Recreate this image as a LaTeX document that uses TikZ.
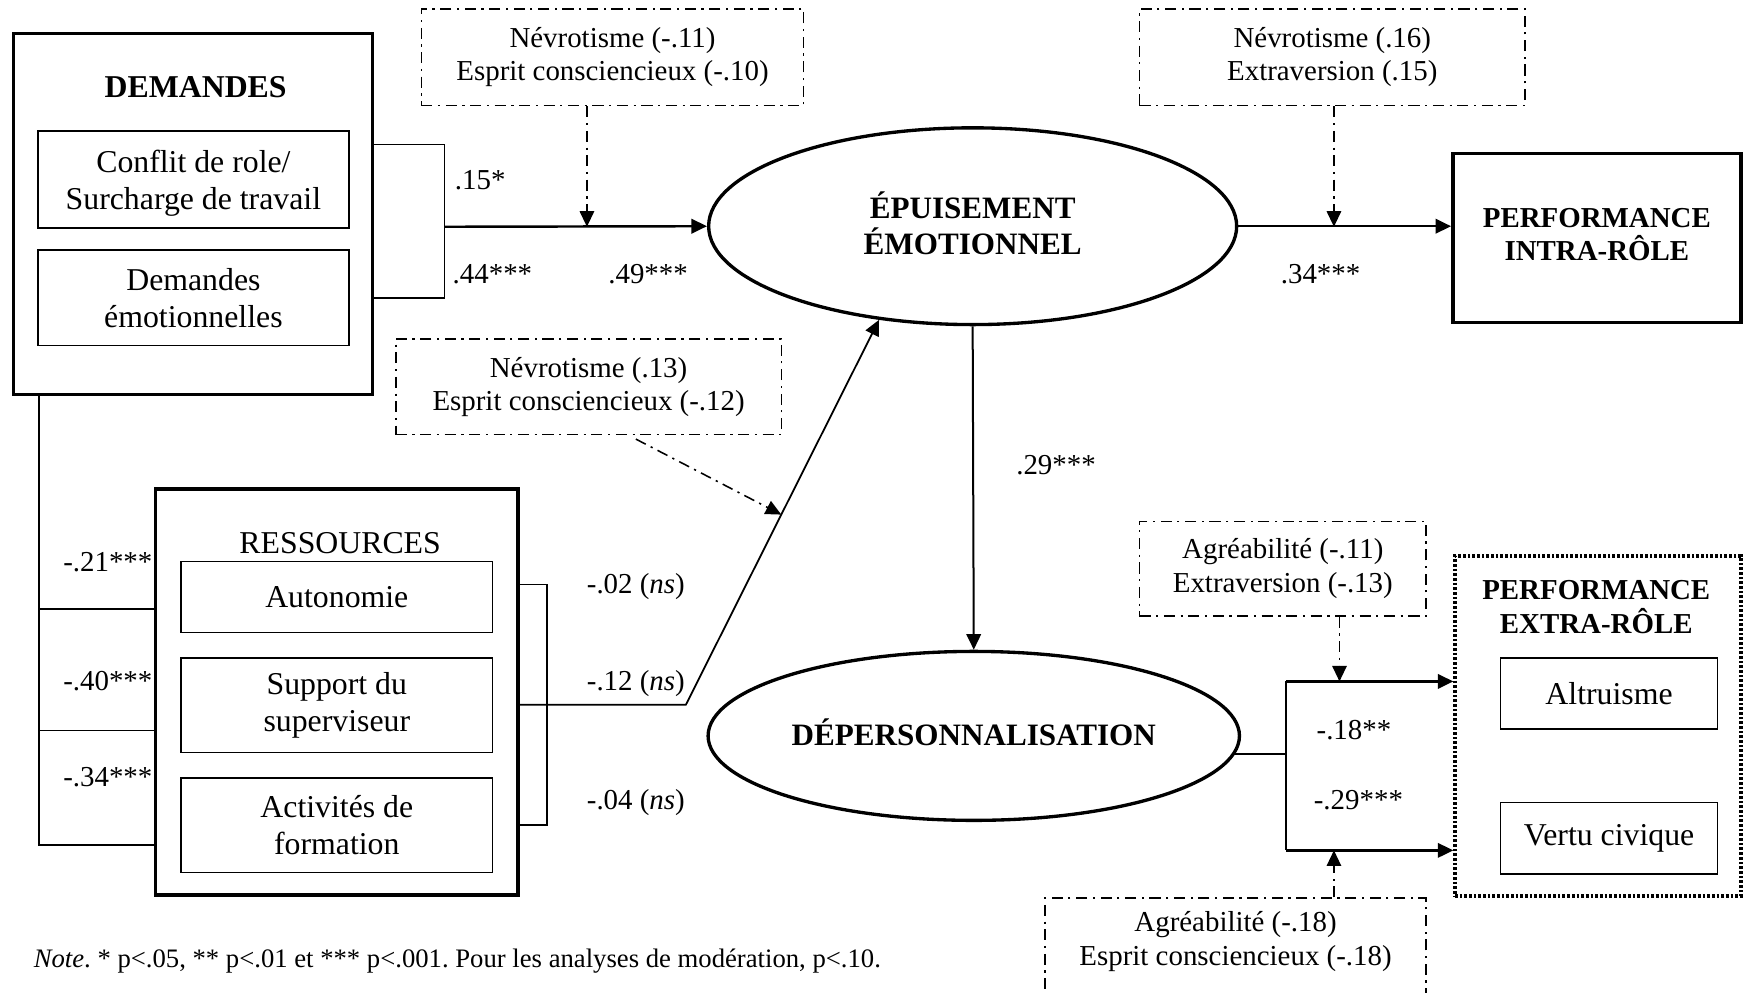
\documentclass[tikz,border=0pt]{standalone}
\usepackage{fontspec}
\setmainfont{Liberation Serif}
\usetikzlibrary{arrows.meta,shapes.geometric,calc}
\frenchspacing
\begin{document}
\begin{tikzpicture}[x=0.5pt,y=-0.5pt,
  font=\fontsize{13}{15}\selectfont,
  big/.style={font=\fontsize{14.3}{16.5}\selectfont},
  box/.style={draw,line width=0.7pt,inner sep=0pt,align=center,big},
  bigbox/.style={draw,line width=1.6pt,inner sep=0pt,align=center},
  modbox/.style={draw,line width=0.7pt,dash pattern=on 5pt off 2.5pt on 1pt off 2.5pt,inner sep=0pt,align=center},
  latent/.style={ellipse,draw,line width=1.5pt,inner sep=0pt,align=center,font=\fontsize{14}{16}\selectfont\bfseries},
  lbl/.style={inner sep=0pt},
  tip/.style={-{Triangle[length=7pt,width=6.5pt]}},
  mainarr/.style={tip,line width=1.1pt},
  thin/.style={line width=0.7pt},
  modarr/.style={tip,line width=0.7pt,dash pattern=on 5pt off 2.5pt on 1pt off 2.5pt},
]
\useasboundingbox (0,0) rectangle (1568,893);

% DEMANDES
\node[bigbox,minimum width=161.5pt,minimum height=162.5pt] (dem) at (173.5,192.5) {};
\node[lbl,font=\fontsize{14.3}{16.5}\selectfont\bfseries] (demt) at (176,78) {DEMANDES};
\node[box,minimum width=140pt,minimum height=43.5pt] (d1) at (174,161.5) {\\[-3pt]Conflit de role/\\Surcharge de travail};
\node[box,minimum width=140pt,minimum height=43pt] (d2) at (174,268) {Demandes\\émotionnelles};

% moderators
\node[modbox,minimum width=172pt,minimum height=43.5pt] (mod1) at (551,51.5) {Névrotisme (-.11)\\Esprit consciencieux (-.10)};
\node[modbox,minimum width=173.5pt,minimum height=43.5pt] (mod2) at (1198.5,51.5) {Névrotisme (.16)\\Extraversion (.15)};
\node[modbox,minimum width=173.5pt,minimum height=43pt] (mod3) at (529.5,348) {Névrotisme (.13)\\Esprit consciencieux (-.12)};
\node[modbox,minimum width=129pt,minimum height=42.5pt] (mod4) at (1154,511.5) {Agréabilité (-.11)\\Extraversion (-.13)};
\node[modbox,minimum width=171.5pt,minimum height=50pt] (mod5) at (1111.5,858) {};
\node[lbl,align=center] (mod5t) at (1111.5,847) {Agréabilité (-.18)\\Esprit consciencieux (-.18)};

% latent variables
\node[latent,minimum width=237.5pt,minimum height=88.5pt] (epu) at (875,203.5) {};
\node[lbl,align=center,font=\fontsize{14}{16}\selectfont\bfseries] (eput) at (875,201) {ÉPUISEMENT\\ÉMOTIONNEL};
\node[latent,minimum width=239pt,minimum height=76pt] (dep) at (876,662) {};
\node[lbl,font=\fontsize{14}{16}\selectfont\bfseries] (dept) at (876,659) {DÉPERSONNALISATION};

% outcomes
\node[bigbox,minimum width=129.5pt,minimum height=76pt] (intra) at (1436.5,214) {};
\node[lbl,align=center,font=\fontsize{13}{15}\selectfont\bfseries] (intrat) at (1436.5,211) {PERFORMANCE\\INTRA-RÔLE};
\node[draw,line width=1.6pt,dash pattern=on 1.2pt off 0.9pt,inner sep=0pt,minimum width=128.5pt,minimum height=153pt] (extra) at (1437.5,653) {};
\node[lbl,align=center,font=\fontsize{13}{15}\selectfont\bfseries] (extrat) at (1436,546) {PERFORMANCE\\EXTRA-RÔLE};
\node[box,minimum width=97.5pt,minimum height=32pt] (alt) at (1447.5,624) {Altruisme};
\node[box,minimum width=97.5pt,minimum height=32pt] (vert) at (1447.5,754) {Vertu civique};

% RESSOURCES
\node[bigbox,minimum width=163pt,minimum height=182.5pt] (res) at (303,622.5) {};
\node[lbl,big] (rest) at (306,489) {RESSOURCES};
\node[box,minimum width=140pt,minimum height=32pt] (r1) at (303,537) {Autonomie};
\node[box,minimum width=140pt,minimum height=42.5pt] (r2) at (303,634.5) {Support du\\superviseur};
\node[box,minimum width=140pt,minimum height=42.5pt] (r3) at (303,742.5) {Activités de\\formation};

% coordinates
\coordinate (bt) at (400,130);
\coordinate (bb) at (400,268);
\coordinate (bm) at (400,204);
\coordinate (m1t) at (528,204);
\coordinate (m2t) at (1200,204);
\coordinate (l1) at (35,548);
\coordinate (l2) at (35,657);
\coordinate (l3) at (35,760);
\coordinate (rt) at (492,526);
\coordinate (rb) at (492,742);
\coordinate (rm) at (617,634);
\coordinate (m3s) at (572,395);
\coordinate (m3t) at ($(rm)!0.494!(epu.225)$);
\coordinate (qt) at (1157,613);
\coordinate (qb) at (1157,765);
\coordinate (m4t) at (1205,613);
\coordinate (m5t) at (1200,765);

% connectors
\draw[thin] (dem.east |- bt) -- (bt) -- (bb) -- (dem.east |- bb);
\draw[mainarr] (bm) -- (epu.west);
\draw[modarr] (mod1.south -| m1t) -- (m1t);
\draw[mainarr] (epu.east) -- (epu.east -| intra.west);
\draw[modarr] (mod2.south -| m2t) -- (m2t);
\draw[tip,line width=0.9pt] (epu.south) -- (dep.north);

\draw[thin] (dem.south -| l1) -- (l3) -- (l3 -| res.west);
\draw[thin] (l1) -- (l1 -| res.west);
\draw[thin] (l2) -- (l2 -| res.west);

\draw[thin] (res.east |- rt) -- (rt) -- (rb) -- (res.east |- rb);
\draw[tip,line width=0.8pt] (res.east |- rm) -- (rm) -- (epu.225);
\draw[modarr] (m3s) -- (m3t);

\draw[thin] (dep.-4) -- (dep.-4 -| qt);
\draw[thin] (qt) -- (qb);
\draw[mainarr] (qt) -- (qt -| extra.west);
\draw[mainarr] (qb) -- (qb -| extra.west);
\draw[modarr] (mod4.south -| m4t) -- (m4t);
\draw[modarr] (mod5.north -| m5t) -- (m5t);

% labels
\node[lbl] (c1) at (432,162) {.15*};
\node[lbl] (c2) at (443,247) {.44***};
\node[lbl] (c3) at (583,247) {.49***};
\node[lbl] (c4) at (1188,247) {.34***};
\node[lbl] (c5) at (950,418) {.29***};
\node[lbl] (c6) at (97,506) {-.21***};
\node[lbl] (c7) at (97,613) {-.40***};
\node[lbl] (c8) at (97,699) {-.34***};
\node[lbl] (c9) at (572,528) {-.02 (\textit{ns})};
\node[lbl] (c10) at (572,615) {-.12 (\textit{ns})};
\node[lbl] (c11) at (572,722) {-.04 (\textit{ns})};
\node[lbl] (c12) at (1218,657) {-.18**};
\node[lbl] (c13) at (1222,720) {-.29***};

\node[lbl,anchor=west,font=\fontsize{12}{14}\selectfont] (note) at (30,865) {\textit{Note}. * p<.05, ** p<.01 et *** p<.001. Pour les analyses de modération, p<.10.};
\end{tikzpicture}
\end{document}
